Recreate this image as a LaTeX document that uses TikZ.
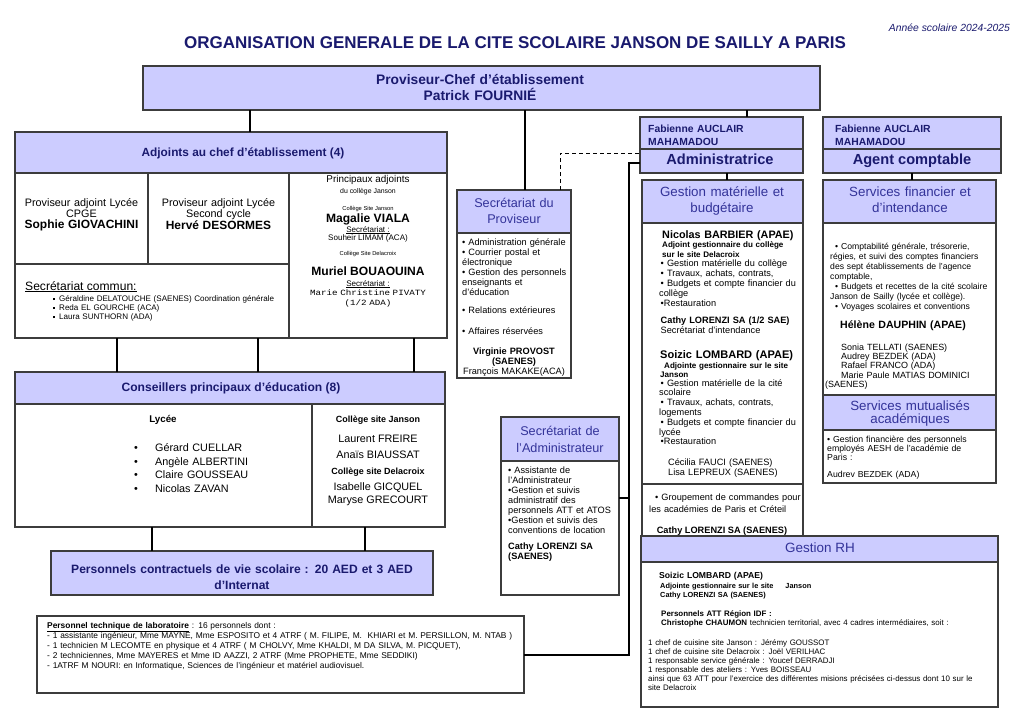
\documentclass[tikz,border=0pt]{standalone}
\usepackage{fontspec}
\setmainfont{Liberation Sans}[Scale=1.15]
\newfontfamily\plainsans{Liberation Sans}
\newfontfamily\monof{Liberation Mono}[FakeStretch=1.15]
\usetikzlibrary{fit}
\definecolor{lav}{RGB}{204,204,255}
\definecolor{navyT}{RGB}{26,26,110}
\definecolor{headT}{RGB}{51,51,153}
\definecolor{bord}{RGB}{60,60,60}
\newcommand\fsz[2]{\fontsize{#1}{#2}\selectfont}
\tikzset{
  frame/.style={draw=bord, line width=1.1pt, fill=white, inner sep=0pt, outer sep=0pt},
  hframe/.style={frame, fill=lav},
  conn/.style={line width=2.3pt, black},
  dconn/.style={line width=1pt, black, dash pattern=on 4pt off 3pt},
  tl/.style={inner sep=0pt, anchor=base west, align=left, text width=#1},
  tl/.default=200pt,
  tc/.style={inner sep=0pt, anchor=base, align=center, text width=#1},
  tm/.style={inner sep=0pt, anchor=mid},
}
\begin{document}
\begin{tikzpicture}[x=1pt,y=-1pt]
\useasboundingbox[fill=white] (0,0) rectangle (1024,724);

% ---------- boxes ----------
\node[hframe, line width=1.8pt, fit={(143,66) (820,110)}] (prov) {};
\node[hframe, fit={(15,132) (447,173)}] (adjh) {};
\node[frame, fit={(15,173) (148,264)}] (adj1) {};
\node[frame, fit={(148,173) (289,264)}] (adj2) {};
\node[frame, fit={(289,173) (447,338)}] (adj3) {};
\node[frame, fit={(15,264) (289,338)}] (seccom) {};
\node[hframe, fit={(15,372) (445,404)}] (cpeh) {};
\node[frame, fit={(15,404) (312,527)}] (cpe1) {};
\node[frame, fit={(312,404) (445,527)}] (cpe2) {};
\node[hframe, fit={(51,551) (433,595)}] (aed) {};
\node[frame, fit={(37,616) (524,693)}] (tech) {};
\node[hframe, fit={(457,190) (571,233)}] (secph) {};
\node[frame, fit={(457,233) (571,378)}] (secpb) {};
\node[hframe, fit={(501,417) (619,461)}] (secah) {};
\node[frame, fit={(501,461) (619,595)}] (secab) {};
\node[hframe, fit={(640,117) (803,149)}] (fab1n) {};
\node[hframe, fit={(640,149) (803,173)}] (fab1a) {};
\node[hframe, fit={(642,180) (803,223)}] (gmh) {};
\node[frame, fit={(642,223) (803,484)}] (gmb) {};
\node[frame, fit={(642,484) (803,536)}] (gmc) {};
\node[hframe, fit={(823,117) (1001,149)}] (fab2n) {};
\node[hframe, fit={(823,149) (1001,173)}] (fab2a) {};
\node[hframe, fit={(823,180) (996,223)}] (sfh) {};
\node[frame, fit={(823,223) (996,395)}] (sfb) {};
\node[hframe, fit={(823,395) (996,430)}] (smh) {};
\node[frame, fit={(823,430) (996,483)}] (smb) {};
\node[hframe, fit={(641,536) (998,562)}] (rhh) {};
\node[frame, fit={(641,562) (998,707)}] (rhb) {};

% ---------- title ----------
\node[tm, font=\plainsans\bfseries\fsz{17}{20}, text=navyT] (title) at (515,45)
  {ORGANISATION GENERALE DE LA CITE SCOLAIRE JANSON DE SAILLY A PARIS};
\node[inner sep=0pt, anchor=mid east, font=\itshape\fsz{9}{10}, text=navyT] (annee) at (1010,28)
  {Année scolaire 2024-2025};

% ---------- proviseur ----------
\node[tc=420pt, font=\plainsans\bfseries\fsz{13.8}{16.5}, text=navyT] (provt) at (480,84)
  {Proviseur-Chef d’établissement\\Patrick FOURNIÉ};

% ---------- adjoints ----------
\node[tm, font=\bfseries\fsz{10.3}{12}, text=navyT] (adjht) at (243,153)
  {Adjoints au chef d’établissement (4)};
\node[tc=130pt, font=\fsz{9.4}{11}] (adj1t) at (81.5,206)
  {Proviseur adjoint Lycée\\CPGE\\{\fsz{10.4}{11}\bfseries Sophie GIOVACHINI}};
\node[tc=138pt, font=\fsz{9.4}{11.5}] (adj2t) at (218.5,206)
  {Proviseur adjoint Lycée\\Second cycle\\{\fsz{10.4}{11.5}\bfseries Hervé DESORMES}};
\node[tm, font=\fsz{8.6}{10}] (pa1) at (368,179) {Principaux adjoints};
\node[tm, font=\fsz{6}{7}] (pa2) at (368,190.5) {du collège Janson};
\node[tm, font=\fsz{5}{6}] (pa3) at (368,207) {Collège Site Janson};
\node[tm, font=\bfseries\fsz{10.5}{12}] (pa4) at (368,219) {Magalie VIALA};
\node[tm, font=\fsz{7}{8}] (pa5) at (368,229) {\underline{Secrétariat :}};
\node[tm, font=\fsz{7}{8}] (pa6) at (368,237.5) {Souheir LIMAM (ACA)};
\node[tm, font=\fsz{5}{6}] (pa7) at (368,252) {Collège Site Delacroix};
\node[tm, font=\bfseries\fsz{10.5}{12}] (pa8) at (368,272) {Muriel BOUAOUINA};
\node[tm, font=\fsz{7}{8}] (pa9) at (368,283) {\underline{Secrétariat :}};
\node[tc=150pt, font=\monof\fsz{8}{10}] (pa10) at (368,295.5) {Marie Christine PIVATY\\(1/2 ADA)};
\node[inner sep=0pt, anchor=base west, font=\fsz{10.5}{12}] (sct) at (25,290) {\underline{Secrétariat commun:}};
\node[tl=260pt, font=\fsz{7}{9}] (scl) at (53,301)
  {\rule[1pt]{2pt}{2pt}\hspace{4pt}Géraldine DELATOUCHE (SAENES) Coordination générale\\
   \rule[1pt]{2pt}{2pt}\hspace{4pt}Reda EL GOURCHE (ACA)\\
   \rule[1pt]{2pt}{2pt}\hspace{4pt}Laura SUNTHORN (ADA)};

% ---------- CPE ----------
\node[tm, font=\bfseries\fsz{10.5}{12}, text=navyT] (cpet) at (231,388)
  {Conseillers principaux d’éducation (8)};
\node[tm, font=\bfseries\fsz{8.5}{10}] (lyc) at (163,419) {Lycée};
\node[tl=160pt, font=\fsz{9.4}{13.7}] (lycl) at (134,451.5)
  {\makebox[21pt][l]{\textbullet}Gérard CUELLAR\\
   \makebox[21pt][l]{\textbullet}Angèle ALBERTINI\\
   \makebox[21pt][l]{\textbullet}Claire GOUSSEAU\\
   \makebox[21pt][l]{\textbullet}Nicolas ZAVAN};
\node[tm, font=\bfseries\fsz{7.8}{9}] (cj) at (378,419) {Collège site Janson};
\node[tm, font=\fsz{9.4}{11}] (cj1) at (378,439) {Laurent FREIRE};
\node[tm, font=\fsz{9.4}{11}] (cj2) at (378,455) {Anaïs BIAUSSAT};
\node[tm, font=\bfseries\fsz{7.8}{9}] (cd) at (378,471) {Collège site Delacroix};
\node[tm, font=\fsz{9.4}{11}] (cd1) at (378,487) {Isabelle GICQUEL};
\node[tm, font=\fsz{9.4}{11}] (cd2) at (378,500) {Maryse GRECOURT};
\node[tc=380pt, font=\bfseries\fsz{10.5}{16}, text=navyT] (aedt) at (242,573.5)
  {Personnels contractuels de vie scolaire : 20 AED et 3 AED\\d’Internat};

% ---------- technique ----------
\node[tl=480pt, font=\fsz{7.3}{10}] (techt) at (47,628.5)
  {\textbf{\underline{Personnel technique de laboratoire}} : 16 personnels dont :\\
   - 1 assistante ingénieur, Mme MAYNE, Mme ESPOSITO et 4 ATRF ( M. FILIPE, M.\ \ KHIARI et M. PERSILLON, M. NTAB )\\
   - 1 technicien M LECOMTE en physique et 4 ATRF ( M CHOLVY, Mme KHALDI, M DA SILVA, M. PICQUET),\\
   - 2 techniciennes, Mme MAYERES et Mme ID AAZZI, 2 ATRF (Mme PROPHETE, Mme SEDDIKI)\\
   - 1ATRF M NOURI: en Informatique, Sciences de l’ingénieur et matériel audiovisuel.};

% ---------- secretariat du proviseur ----------
\node[tc=112pt, font=\fsz{11}{16}, text=headT] (secpt) at (514,207.5)
  {Secrétariat du\\Proviseur};
\node[tl=110pt, font=\fsz{8}{10}] (secpl) at (462,245.5)
  {\textbullet\ Administration générale\\
   \textbullet\ Courrier postal et\\électronique\\
   \textbullet\ Gestion des personnels\\enseignants et\\d’éducation\\[8pt]
   \textbullet\ Relations extérieures\\[11pt]
   \textbullet\ Affaires réservées};
\node[tc=112pt, font=\fsz{8}{10}] (secpn) at (514,354.5)
  {\textbf{Virginie PROVOST}\\\textbf{(SAENES)}\\François MAKAKE(ACA)};

% ---------- secretariat de l'administrateur ----------
\node[tc=116pt, font=\fsz{11}{17}, text=headT] (secat) at (560,435.5)
  {Secrétariat de\\l’Administrateur};
\node[tl=110pt, font=\fsz{8}{10}] (secal) at (508,473.5)
  {\textbullet\ Assistante de\\l’Administrateur\\
   \textbullet Gestion et suivis\\administratif des\\personnels ATT et ATOS\\
   \textbullet Gestion et suivis des\\conventions de location\\[6pt]
   \textbf{Cathy LORENZI SA}\\\textbf{(SAENES)}};

% ---------- administratrice ----------
\node[tl=150pt, font=\bfseries\fsz{9}{13}, text=navyT] (fab1t) at (648,132)
  {Fabienne AUCLAIR\\MAHAMADOU};
\node[tm, font=\bfseries\fsz{12.7}{14}, text=navyT] (admt) at (720,161) {Administratrice};
\node[tc=160pt, font=\fsz{11.6}{16}, text=headT] (gmt) at (722,196.5)
  {Gestion matérielle et\\budgétaire};
\node[tl=140pt, font=\bfseries\fsz{9.4}{10}] (gm1) at (662,238) {Nicolas BARBIER (APAE)};
\node[tl=140pt, font=\bfseries\fsz{7}{10}] (gm2) at (662,247.5)
  {Adjoint gestionnaire du collège\\sur le site Delacroix};
\node[tl=150pt, font=\fsz{8}{10}] (gm3) at (659,266.5)
  {\,\textbullet\ Gestion matérielle du collège\\
   \,\textbullet\ Travaux, achats, contrats,\\
   \,\textbullet\ Budgets et compte financier du\\collège\\
   \,\textbullet Restauration\\[7pt]
   \,\textbf{Cathy LORENZI SA (1/2 SAE)}\\
   \,Secrétariat d’intendance};
\node[tl=140pt, font=\bfseries\fsz{9.6}{10}] (gm4) at (660,358.5) {Soizic LOMBARD (APAE)};
\node[tl=140pt, font=\bfseries\fsz{7}{9}] (gm5) at (664,368.5)
  {Adjointe gestionnaire sur le site\\\hspace*{-4pt}Janson};
\node[tl=150pt, font=\fsz{8}{9.8}] (gm6) at (659,386)
  {\,\textbullet\ Gestion matérielle de la cité\\scolaire\\
   \,\textbullet\ Travaux, achats, contrats,\\logements\\
   \,\textbullet\ Budgets et compte financier du\\lycée\\
   \,\textbullet Restauration};
\node[tl=140pt, font=\fsz{8}{9.5}] (gm7) at (668,465.5)
  {Cécilia FAUCI (SAENES)\\Lisa LEPREUX (SAENES)};
\node[tl=155pt, font=\fsz{8}{12}] (gm8) at (649,500.5)
  {\hspace*{6pt}\textbullet\ Groupement de commandes pour\\les académies de Paris et Créteil};
\node[tm, font=\bfseries\fsz{8}{10}] (gm9) at (722,530) {Cathy LORENZI SA (SAENES)};

% ---------- agent comptable ----------
\node[tl=150pt, font=\bfseries\fsz{9}{13}, text=navyT] (fab2t) at (835,132)
  {Fabienne AUCLAIR\\MAHAMADOU};
\node[tm, font=\bfseries\fsz{12.7}{14}, text=navyT] (act) at (912,161) {Agent comptable};
\node[tc=170pt, font=\fsz{11.6}{16}, text=headT] (sft) at (910,196.5)
  {Services financier et\\d’intendance};
\node[tl=170pt, font=\fsz{7.5}{10}] (sf1) at (830,249.5)
  {\hspace*{5pt}\textbullet\ Comptabilité générale, trésorerie,\\
   régies, et suivi des comptes financiers\\
   des sept établissements de l’agence\\
   comptable,\\
   \hspace*{5pt}\textbullet\ Budgets et recettes de la cité scolaire\\
   Janson de Sailly (lycée et collège).\\
   \hspace*{5pt}\textbullet\ Voyages scolaires et conventions};
\node[tl=160pt, font=\bfseries\fsz{9.2}{10}] (sf2) at (840,328.5) {Hélène DAUPHIN (APAE)};
\node[tl=170pt, font=\fsz{7.8}{9.2}] (sf3) at (841,350.5)
  {Sonia TELLATI (SAENES)\\Audrey BEZDEK (ADA)\\Rafael FRANCO (ADA)\\Marie Paule MATIAS DOMINICI\\\hspace*{-16pt}(SAENES)};
\node[tc=170pt, font=\fsz{11.6}{13}, text=headT] (smt) at (910,410.5)
  {Services mutualisés\\académiques};
\node[tl=165pt, font=\fsz{7.6}{9}] (sm1) at (827,442.5)
  {\textbullet\ Gestion financière des personnels\\employés AESH de l’académie de\\Paris :\\[8pt]Audrev BEZDEK (ADA)};

% ---------- gestion RH ----------
\node[tm, font=\fsz{11.7}{13}, text=headT] (rht) at (820,549) {Gestion RH};
\node[tl=200pt, font=\bfseries\fsz{7.5}{10}] (rh1) at (659,578) {Soizic LOMBARD (APAE)};
\node[tl=250pt, font=\bfseries\fsz{6.4}{9}] (rh2) at (660,588.5)
  {Adjointe gestionnaire sur le site\hspace{12pt}Janson\\Cathy LORENZI SA (SAENES)};
\node[tl=330pt, font=\fsz{6.9}{9}] (rh3) at (661,616.5)
  {\textbf{Personnels ATT Région IDF :}\\\textbf{Christophe CHAUMON} technicien territorial, avec 4 cadres intermédiaires, soit :};
\node[tl=345pt, font=\fsz{6.9}{9}] (rh4) at (648,645)
  {1 chef de cuisine site Janson : Jérémy GOUSSOT\\
   1 chef de cuisine site Delacroix : Joël VERILHAC\\
   1 responsable service générale : Youcef DERRADJI\\
   1 responsable des ateliers : Yves BOISSEAU\\
   ainsi que 63 ATT pour l’exercice des différentes misions précisées ci-dessus dont 10 sur le\\
   site Delacroix};

% ---------- connectors ----------
\coordinate (c1) at (250,0);
\coordinate (c2) at (525,0);
\coordinate (c3) at (747,0);
\coordinate (c4) at (727,0);
\coordinate (c5) at (912,0);
\coordinate (c6) at (117,0);
\coordinate (c7) at (258,0);
\coordinate (c8) at (414,0);
\coordinate (c9) at (152,0);
\coordinate (c10) at (365,0);
\coordinate (d1) at (560,153);
\coordinate (j1) at (629,163);
\coordinate (j2) at (629,655);
\coordinate (j3) at (629,498);
\draw[conn] (prov.south -| c1) -- (adjh.north -| c1);
\draw[conn] (prov.south -| c2) -- (secph.north -| c2);
\draw[conn] (prov.south -| c3) -- (fab1n.north -| c3);
\draw[conn] (fab1a.south -| c4) -- (gmh.north -| c4);
\draw[conn] (fab2a.south -| c5) -- (sfh.north -| c5);
\draw[conn] (seccom.south -| c6) -- (cpeh.north -| c6);
\draw[conn] (seccom.south -| c7) -- (cpeh.north -| c7);
\draw[conn] (adj3.south -| c8) -- (cpeh.north -| c8);
\draw[conn] (cpe1.south -| c9) -- (aed.north -| c9);
\draw[conn] (cpe2.south -| c10) -- (aed.north -| c10);
\draw[dconn] (secph.north -| d1) -- (d1) -- (d1 -| fab1a.west);
\draw[conn] (j1 -| fab1a.west) -- (j1) -- (j2) -- (j2 -| tech.east);
\draw[conn] (secab.east |- j3) -- (j3);
\end{tikzpicture}
\end{document}
